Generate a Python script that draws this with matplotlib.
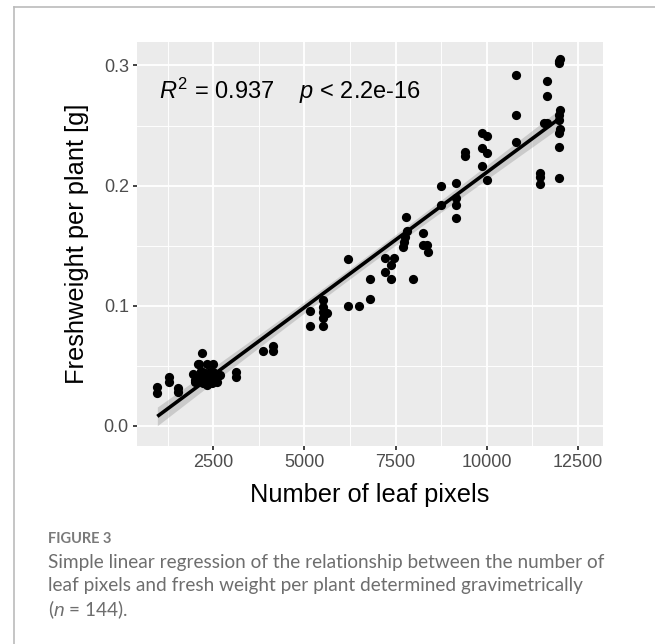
import numpy as np
import matplotlib
matplotlib.use("Agg")
import matplotlib.pyplot as plt
from matplotlib.lines import Line2D

# ---- data ----
leaf_pixels = [
    962, 962, 1291, 1291, 1538, 1538,
    2181, 2115, 2319, 2500, 1951, 2135, 1997, 2225, 2410, 2500, 1997, 2088,
    2272, 2409, 2319, 2456, 2593, 2684, 2593, 2409, 2050, 2200, 2350, 2150, 2550,
    3115, 3115, 3874, 4148, 4148,
    5157, 5157, 5522, 5522, 5522, 5522, 5522, 5615,
    6200, 6200, 6500, 6786, 6786,
    7217, 7217, 7445, 7382, 7373, 7977,
    7703, 7738, 7812, 7794, 7760,
    8253, 8253, 8363, 8380,
    8755, 8755, 9168, 9168, 9168, 9168, 9396, 9396,
    9873, 10011, 9873, 10011, 9873, 10011,
    10808, 10808, 10808,
    11456, 11456, 11456,
    11659, 11659, 11659, 11582,
    11978, 12025, 11990,
    12025, 11978, 12025, 11978, 11978, 11978, 12000,
]
fresh_weight = [
    0.0327, 0.0272, 0.0405, 0.0370, 0.0314, 0.0286,
    0.0605, 0.0520, 0.0520, 0.0520, 0.0433, 0.0410, 0.0383, 0.0355, 0.0383, 0.0450, 0.0370, 0.0520,
    0.0439, 0.0450, 0.0340, 0.0355, 0.0410, 0.0425, 0.0370, 0.0410, 0.0400, 0.0380, 0.0400, 0.0460, 0.0400,
    0.0450, 0.0405, 0.0620, 0.0666, 0.0620,
    0.0960, 0.0830, 0.1050, 0.0993, 0.0950, 0.0897, 0.0830, 0.0940,
    0.1390, 0.1000, 0.1000, 0.1060, 0.1227,
    0.1396, 0.1280, 0.1396, 0.1340, 0.1227, 0.1227,
    0.1490, 0.1530, 0.1626, 0.1740, 0.1570,
    0.1610, 0.1507, 0.1507, 0.1450,
    0.2000, 0.1840, 0.2026, 0.1896, 0.1840, 0.1730, 0.2284, 0.2248,
    0.2437, 0.2410, 0.2310, 0.2270, 0.2165, 0.2048,
    0.2923, 0.2590, 0.2360,
    0.2104, 0.2070, 0.2015,
    0.2875, 0.2742, 0.2525, 0.2520,
    0.3040, 0.3050, 0.3020,
    0.2630, 0.2590, 0.2470, 0.2437, 0.2320, 0.2067, 0.2550,
]
x_ticks = [2500, 5000, 7500, 10000, 12500]
x_tick_labels = ["2500", "5000", "7500", "10000", "12500"]
y_ticks = [0.0, 0.1, 0.2, 0.3]
y_tick_labels = ["0.0", "0.1", "0.2", "0.3"]
r2_text = "0.937"
p_text = "2.2e-16"

x = np.array(leaf_pixels, dtype=float)
y = np.array(fresh_weight, dtype=float)

# ---- figure ----
W, H = 655, 644
fig = plt.figure(figsize=(W / 100, H / 100), dpi=100)
plt.rcParams['mathtext.fontset'] = 'custom'
plt.rcParams['mathtext.rm'] = 'Liberation Sans'
plt.rcParams['mathtext.it'] = 'Liberation Sans:italic'

def fx(px):
    return px / W

def fy(py):
    return 1 - py / H

left, right, top, bottom = 136.7, 603.3, 41.7, 445.7
ax = fig.add_axes([fx(left), fy(bottom), (right - left) / W, (bottom - top) / H])
ax.set_facecolor("#EBEBEB")
for s in ax.spines.values():
    s.set_visible(False)

ax.set_xlim(396, 13203)
ax.set_ylim(-0.0164, 0.3198)

ax.set_xticks(x_ticks)
ax.set_xticklabels(x_tick_labels)
ax.set_yticks(y_ticks)
ax.set_yticklabels(y_tick_labels)
ax.set_xticks([1250, 3750, 6250, 8750, 11250], minor=True)
ax.set_yticks([0.05, 0.15, 0.25], minor=True)
ax.grid(which="major", color="white", linewidth=1.3)
ax.grid(which="minor", color="white", linewidth=0.65)
ax.set_axisbelow(True)
ax.tick_params(which="major", length=3.2, width=1.3, color="#333333",
               labelsize=13, labelcolor="#4D4D4D", pad=2.5)
ax.tick_params(which="minor", length=0)
for lab in ax.get_xticklabels() + ax.get_yticklabels():
    lab.set_family("Liberation Sans")

# regression line with confidence band
coef = np.polyfit(x, y, 1)
xs = np.linspace(x.min(), x.max(), 200)
yhat = np.polyval(coef, xs)
n = len(x)
resid = y - np.polyval(coef, x)
s_err = np.sqrt(np.sum(resid ** 2) / (n - 2))
se = s_err * np.sqrt(1 / n + (xs - x.mean()) ** 2 / np.sum((x - x.mean()) ** 2))
ci = 1.98 * se
ax.fill_between(xs, yhat - ci, yhat + ci, color="#999999", alpha=0.4, linewidth=0, zorder=2)
ax.plot(xs, yhat, color="black", linewidth=2.6, zorder=3, solid_capstyle="butt")

ax.scatter(x, y, s=44, color="black", linewidths=0, zorder=4)

ax.text(1016, 0.272, r"$\it{R}^2$ = " + r2_text + r"    $\it{p}$ < " + p_text,
        fontsize=17, family="Liberation Sans", color="black", ha="left", va="baseline")

# axis titles
fig.text(fx(370), fy(495), "Number of leaf pixels", family="Liberation Sans",
         fontsize=18.3, ha="center", va="center", color="black")
fig.text(fx(77), fy(243.7), "Freshweight per plant [g]", family="Liberation Sans",
         fontsize=18.3, ha="center", va="center", rotation=90, color="black")

# frame lines
fig.add_artist(Line2D([fx(14), fx(14)], [fy(7), 0], color="#BBBBBB", linewidth=1.2))
fig.add_artist(Line2D([fx(14), 1], [fy(7), fy(7)], color="#BBBBBB", linewidth=1.2))

# caption
cap_color = "#6E6E6E"
cap_size = 13.7
fig.text(fx(48), fy(539), "FIGURE 3", family="Lato", fontweight="bold",
         fontsize=10.5, color="#7A7A7A", ha="left", va="center")
fig.text(fx(48), fy(562.7), "Simple linear regression of the relationship between the number of",
         family="Lato", fontsize=cap_size, color=cap_color, ha="left", va="center")
fig.text(fx(48), fy(585.7), "leaf pixels and fresh weight per plant determined gravimetrically",
         family="Lato", fontsize=cap_size, color=cap_color, ha="left", va="center")
fig.text(fx(48), fy(610), r"($\it{n}$ = 144).", family="Lato", fontsize=cap_size,
         color=cap_color, ha="left", va="center")

fig.savefig("out.png", dpi=100)
